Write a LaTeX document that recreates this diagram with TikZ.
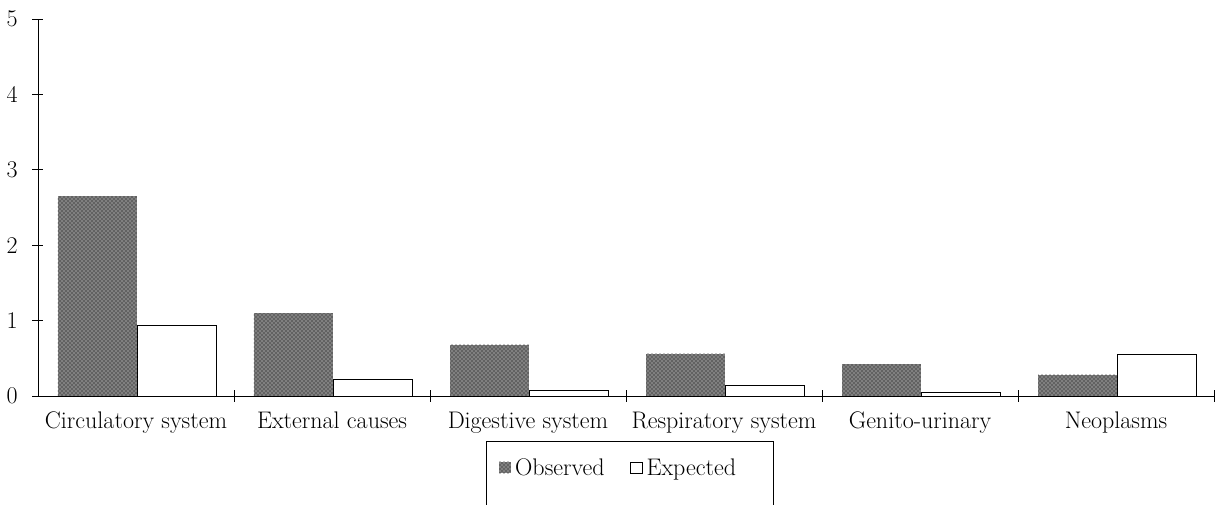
\documentclass[tikz,border=0pt]{standalone}
\usepackage{tikz}
\usetikzlibrary{patterns,positioning}

\begin{document}
\begin{tikzpicture}[x=0.75pt,y=-0.75pt,every node/.style={font=\fontsize{18}{21}\selectfont},
  obsbar/.style={preaction={fill=black!50},pattern=crosshatch dots,pattern color=black},
  expbar/.style={draw=black,fill=white,line width=0.7pt},
  axisline/.style={line width=0.7pt}]
\useasboundingbox (0,0) rectangle (1216,505);
\begin{scope}[shift={(38,396)},x=147pt,y=56.55pt]
% bars: observed / expected
\fill[obsbar] (0.102,0) rectangle (0.505,2.65);
\draw[expbar] (0.505,0) rectangle (0.908,0.94);
\fill[obsbar] (1.102,0) rectangle (1.505,1.10);
\draw[expbar] (1.505,0) rectangle (1.908,0.22);
\fill[obsbar] (2.102,0) rectangle (2.505,0.68);
\draw[expbar] (2.505,0) rectangle (2.908,0.08);
\fill[obsbar] (3.102,0) rectangle (3.505,0.56);
\draw[expbar] (3.505,0) rectangle (3.908,0.14);
\fill[obsbar] (4.102,0) rectangle (4.505,0.42);
\draw[expbar] (4.505,0) rectangle (4.908,0.05);
\fill[obsbar] (5.102,0) rectangle (5.505,0.28);
\draw[expbar] (5.505,0) rectangle (5.908,0.55);
% axes
\draw[axisline] (0,0) -- (0,5);
\draw[axisline] (0,0) -- (6,0);
\foreach \v in {0,...,5} {
  \draw[axisline] (0,\v) ++(-4.5pt,0) -- ++(8.5pt,0);
  \node[anchor=east,inner sep=0pt,xshift=-15pt] (ytick\v) at (0,\v) {\v};
}
\foreach \k in {1,...,6}
  \draw[axisline] (\k,0) ++(0,-4.5pt) -- ++(0,9pt);
% category labels
\node[anchor=base,yshift=-24pt] (circ) at (0.5,0) {Circulatory system};
\node[anchor=base,yshift=-24pt] (ext) at (1.5,0) {External causes};
\node[anchor=base,yshift=-24pt] (dig) at (2.5,0) {Digestive system};
\node[anchor=base,yshift=-24pt] (resp) at (3.5,0) {Respiratory system};
\node[anchor=base,yshift=-24pt] (gen) at (4.5,0) {Genito-urinary};
\node[anchor=base,yshift=-24pt] (neo) at (5.5,0) {Neoplasms};
\end{scope}
% legend
\draw[line width=0.6pt] (486,505) |- (773,441) -- (773,505);
\node[obsbar,minimum size=8.5pt,inner sep=0pt] (obskey) at (505,467.5) {};
\node[right=2pt of obskey,inner sep=1pt,text depth=0pt] (obslabel) {Observed};
\node[draw,line width=0.5pt,minimum size=8.5pt,inner sep=0pt,right=18pt of obslabel] (expkey) {};
\node[right=2pt of expkey,inner sep=1pt,text depth=0pt] (explabel) {Expected};
\end{tikzpicture}
\end{document}
